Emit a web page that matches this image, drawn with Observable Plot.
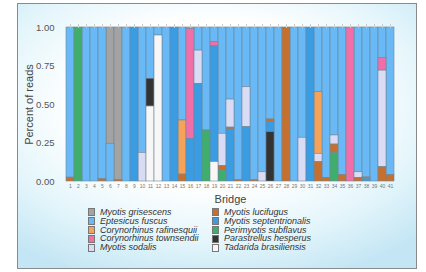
<!DOCTYPE html>
<html>
<head>
<meta charset="utf-8">
<script src="https://cdn.jsdelivr.net/npm/d3@7"></script>
<script src="https://cdn.jsdelivr.net/npm/@observablehq/plot@0.6"></script>
<style>
  html, body { margin: 0; padding: 0; background: #fff; }
  body { width: 426px; height: 272px; position: relative; overflow: hidden; font-family: "Liberation Sans", Arial, sans-serif; }
  #panel {
    position: absolute; left: 17px; top: 3px; width: 398px; height: 264px;
    border: 1px solid #8a8a8a;
    background: radial-gradient(ellipse 75% 70% at 48% 38%, #ffffff 45%, #e3f5fb 75%, #c4e6f4 100%);
    overflow: hidden;
  }
  #chart { position: absolute; left: 0; top: 0; }
  #legend {
    position: absolute; left: 70px; top: 204px;
    display: grid; grid-template-columns: 124px 160px; grid-auto-flow: column; grid-template-rows: repeat(5, 8.8px);
    font-style: italic; font-size: 9px; line-height: 8.8px; color: #333;
  }
  .item { display: flex; align-items: center; white-space: nowrap; }
  .sw { width: 5px; height: 6px; border: 0.5px solid #777; margin-right: 5px; flex: none; }
</style>
</head>
<body>
<div id="panel">
  <div id="chart"></div>
  <div id="legend"></div>
</div>
<script>
const bridges = ["1","2","3","4","5","6","7","8","9","10","11","12","13","14","15","16","17","18","19","20","21","22","23","24","25","26","27","28","29","30","31","32","33","34","35","36","37","38","39","40","41"];

const species = ["Myotis grisescens","Eptesicus fuscus","Corynorhinus rafinesquii","Corynorhinus townsendii","Myotis sodalis","Myotis lucifugus","Myotis septentrionalis","Perimyotis subflavus","Parastrellus hesperus","Tadarida brasiliensis"];
const colors = ["#a3a3a3","#68b9f6","#f5a25a","#f06fa8","#d9dcf4","#c5702f","#3a9ce2","#3fae6c","#333333","#f7f7f7"];

// values per bridge (1..41)
const grisescens      = [0,0,0,0,0,.755,.99,0,0,0, 0,0,0,0,0,0,0,0,0,0, 0,0,0,0,0,0,0,0,0,0, 0,0,0,0,0,0,0,0,0,0,0];
const fuscus          = [.975,0,1,1,.985,.245,0,1,0,.814, .333,.052,1,0,.604,.01,.15,.669,.095,.69, .468,.99,.388,.992,.94,.597,1,0,1,.716, 0,.42,.976,.701,.957,0,.94,.972,1,.197,.957];
const rafinesquii     = [0,0,0,0,0,0,0,0,0,0, 0,0,0,0,.351,0,0,0,0,0, 0,0,0,0,0,0,0,0,0,0, 0,.40,0,0,0,0,0,0,0,0,0];
const townsendii      = [0,0,0,0,0,0,0,0,0,0, 0,0,0,0,0,.713,0,0,.028,0, 0,0,0,0,0,0,0,0,0,0, 0,0,0,0,0,1,0,0,0,.083,0];
const sodalis         = [0,0,0,0,0,0,0,0,0,.186, 0,0,0,0,0,0,.216,0,0,.21, .182,0,.259,0,.06,0,0,0,0,.284, 0,.054,0,.059,0,0,.036,.006,0,.627,0];
const lucifugus       = [.025,0,0,0,.015,0,.01,0,0,0, 0,0,0,0,.045,0,0,0,0,.029, .012,.01,0,.008,0,.018,0,1,0,0, 0,.126,.024,.056,.043,0,.024,.004,0,.093,.043];
const septentrionalis = [0,0,0,0,0,0,0,0,1,0, 0,0,0,1,0,.277,.634,0,.751,0, .338,0,.353,0,0,.065,0,0,0,0, 1,0,0,0,0,0,0,.018,0,0,0];
const subflavus       = [0,1,0,0,0,0,0,0,0,0, 0,0,0,0,0,0,0,.331,0,.071, 0,0,0,0,0,0,0,0,0,0, 0,0,0,.184,0,0,0,0,0,0,0];
const hesperus        = [0,0,0,0,0,0,0,0,0,0, .18,0,0,0,0,0,0,0,0,0, 0,0,0,0,0,.32,0,0,0,0, 0,0,0,0,0,0,0,0,0,0,0];
const brasiliensis    = [0,0,0,0,0,0,0,0,0,0, .487,.948,0,0,0,0,0,0,.126,0, 0,0,0,0,0,0,0,0,0,0, 0,0,0,0,0,0,0,0,0,0,0];

const yTicks = [0, 0.25, 0.5, 0.75, 1];

const series = [grisescens, fuscus, rafinesquii, townsendii, sodalis, lucifugus, septentrionalis, subflavus, hesperus, brasiliensis];
const data = species.flatMap((sp, i) => bridges.map((b, j) => ({bridge: b, species: sp, value: series[i][j]}))).filter(d => d.value > 0);

const stackOrder = species.slice().reverse();

const chart = Plot.plot({
  width: 398,
  height: 202,
  marginLeft: 40,
  marginRight: 14,
  marginTop: 23,
  marginBottom: 25,
  style: {background: "transparent", fontFamily: "Liberation Sans, Arial, sans-serif", color: "#555"},
  x: {domain: bridges, padding: 0},
  y: {domain: [0, 1]},
  color: {domain: species, range: colors},
  marks: [
    Plot.barY(data, Plot.stackY({order: stackOrder}, {x: "bridge", y: "value", fill: "species", stroke: "#6f8696", strokeWidth: 0.6})),
    Plot.axisX({anchor: "bottom", tickSize: 0, tickPadding: 3, fontSize: 5, label: "Bridge", labelAnchor: "center", labelArrow: "none", labelOffset: 21, fill: "#777"}),
    Plot.axisX({anchor: "top", tickSize: 4, tickFormat: () => "", label: null, stroke: "#ccc"}),
    Plot.axisY({ticks: yTicks, tickFormat: d3.format(".2f"), tickSize: 0, tickPadding: 4, fontSize: 9.5, label: "Percent of reads", labelAnchor: "center", labelArrow: "none", labelOffset: 33, fill: "#555"})
  ]
});
chart.querySelectorAll("g[aria-label='x-axis label'] text, g[aria-label='y-axis label'] text").forEach(t => { t.setAttribute("font-size", "11"); t.setAttribute("fill", "#444"); });
document.getElementById("chart").append(chart);

const legend = document.getElementById("legend");
species.forEach((sp, i) => {
  const item = document.createElement("div");
  item.className = "item";
  const sw = document.createElement("span");
  sw.className = "sw";
  sw.style.background = colors[i];
  item.append(sw, document.createTextNode(sp));
  legend.append(item);
});
</script>
</body>
</html>
